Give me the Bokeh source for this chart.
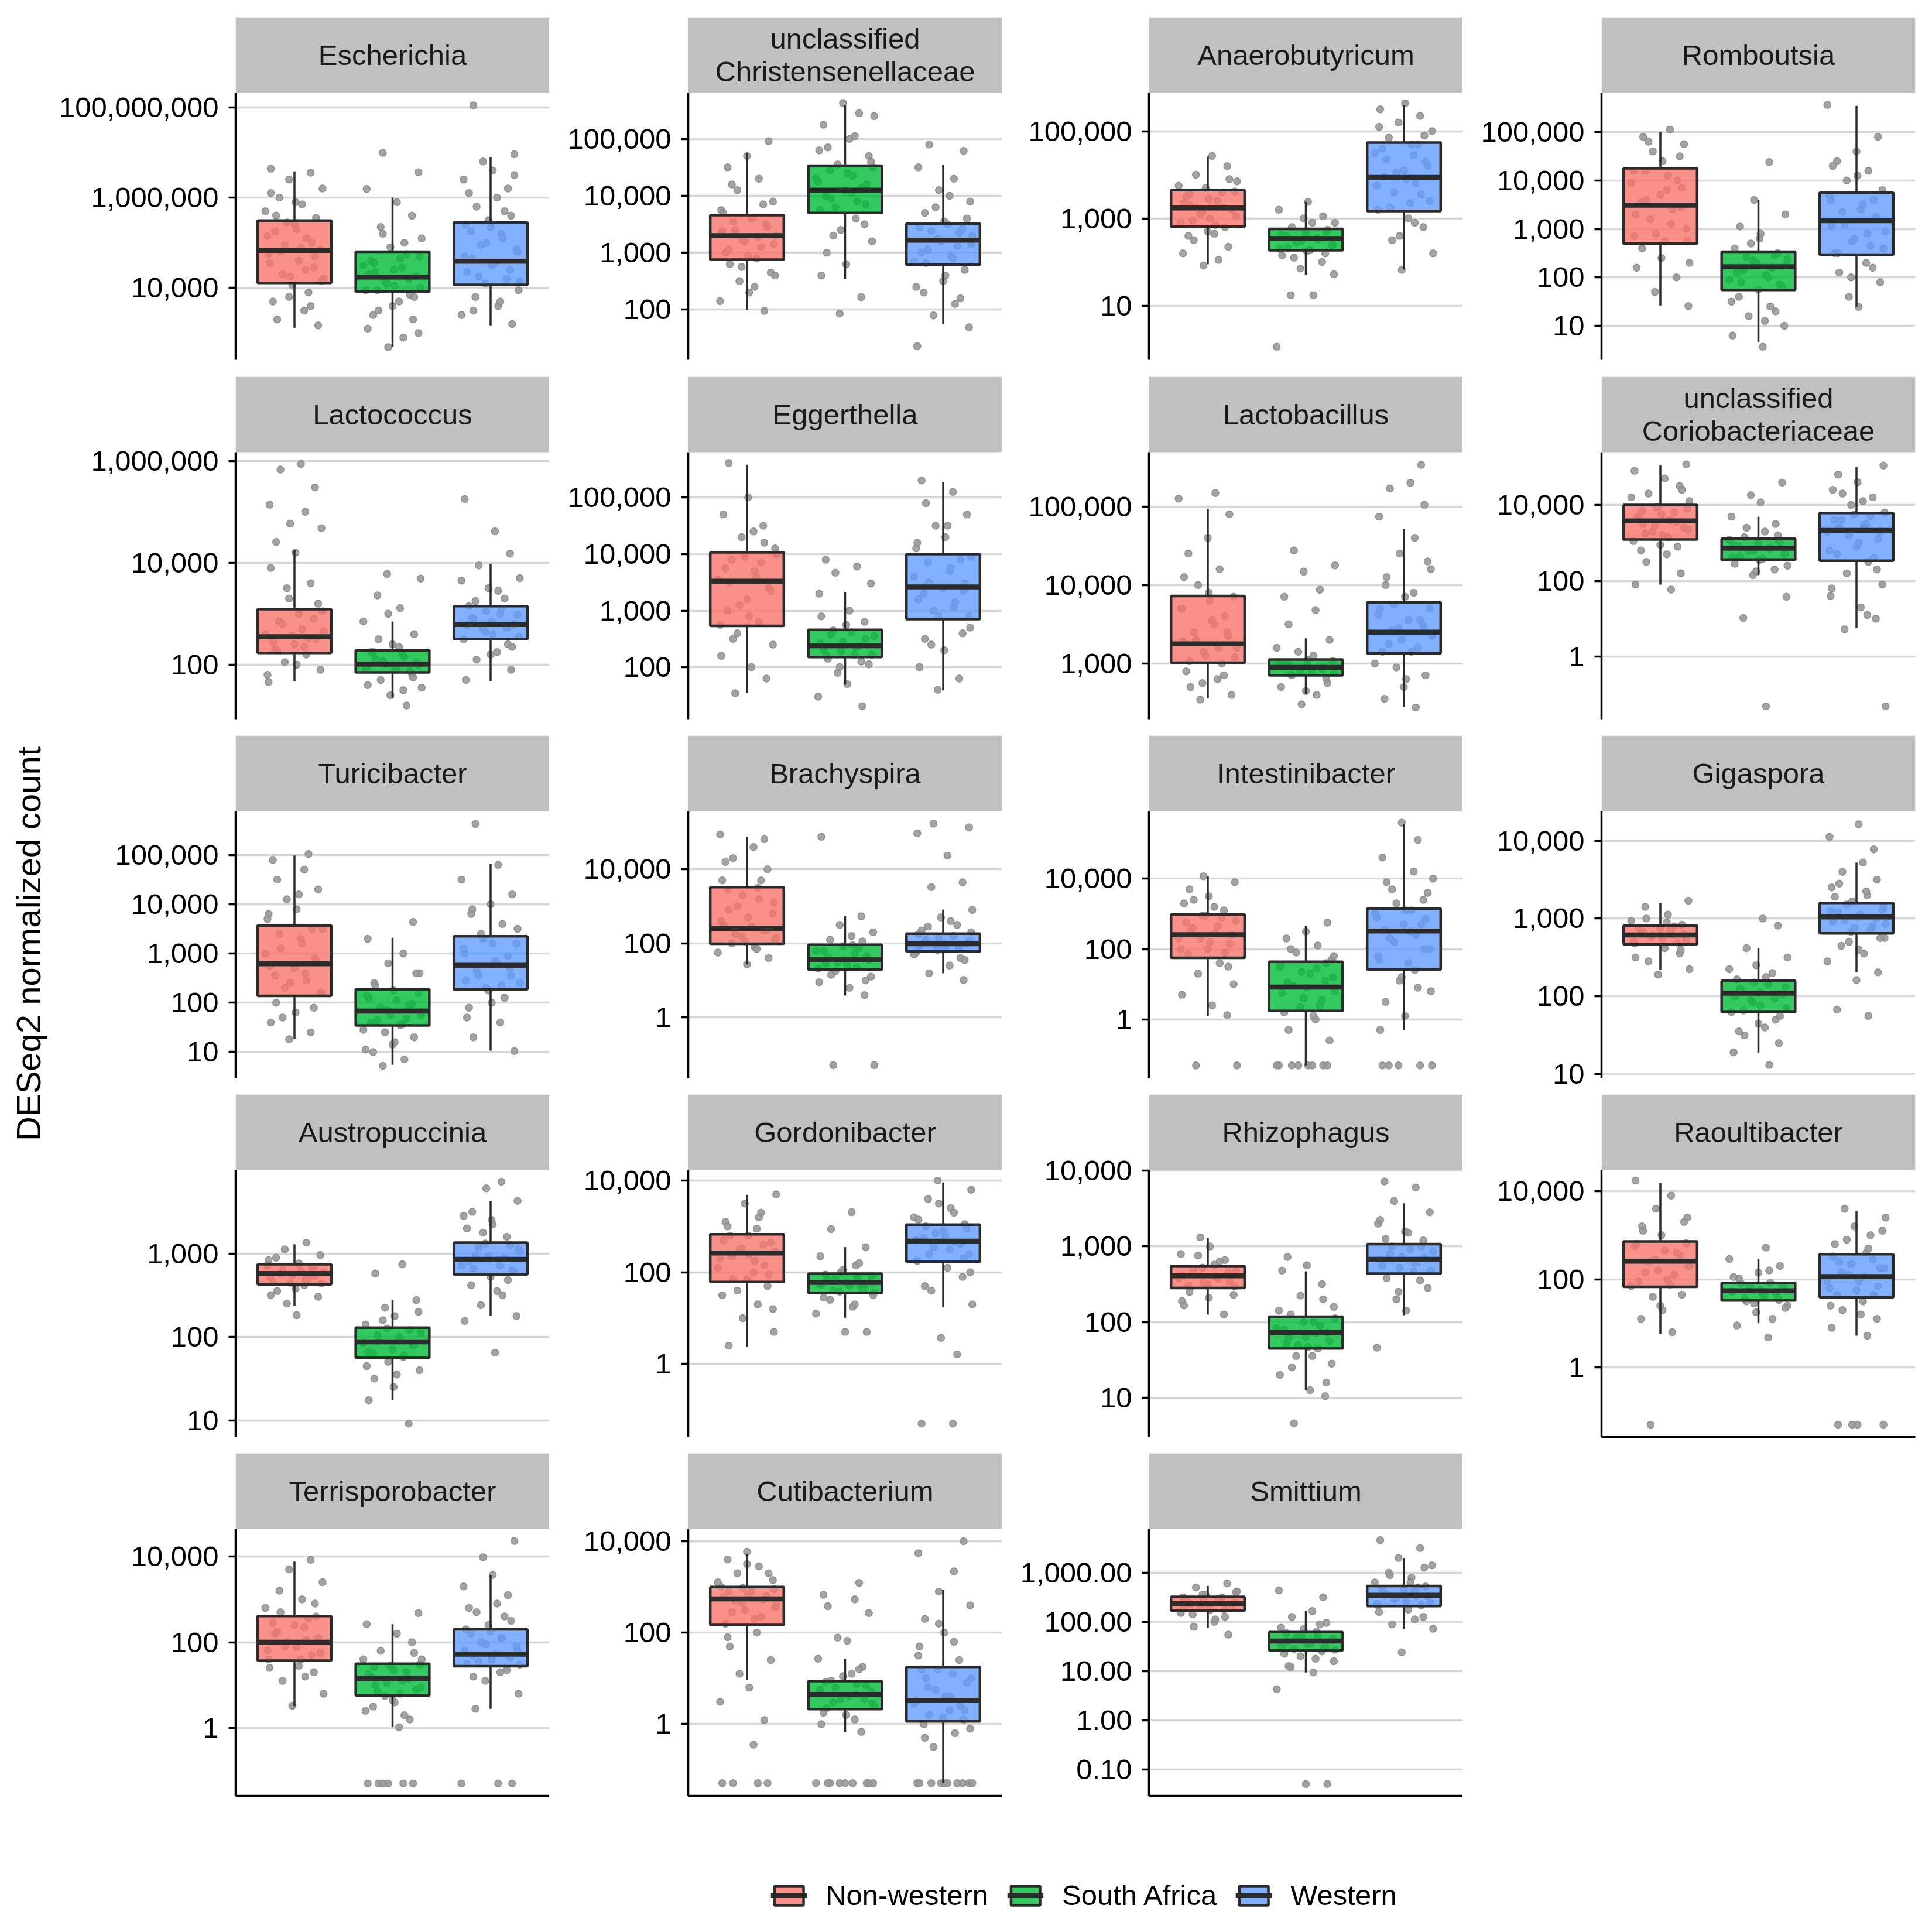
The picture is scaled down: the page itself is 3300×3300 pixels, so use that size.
import math
from bokeh.plotting import figure
from bokeh.models import (Range1d, FixedTicker, NumeralTickFormatter, BoxAnnotation,
                          Label, Legend, LegendItem, ColumnDataSource, Spacer)
from bokeh.layouts import row, column
from bokeh.embed import file_html
from bokeh.resources import INLINE

FONT = "Liberation Sans"

GENERA = ["Escherichia", "unclassified\nChristensenellaceae", "Anaerobutyricum", "Romboutsia",
          "Lactococcus", "Eggerthella", "Lactobacillus", "unclassified\nCoriobacteriaceae",
          "Turicibacter", "Brachyspira", "Intestinibacter", "Gigaspora",
          "Austropuccinia", "Gordonibacter", "Rhizophagus", "Raoultibacter",
          "Terrisporobacter", "Cutibacterium", "Smittium"]
GROUPS = ["Non-western", "South Africa", "Western"]
COLORS = ["#F8766D", "#00BA38", "#619CFF"]
Y_TITLE = "DESeq2 normalized count"

# panel y limits (log10 of count)
Y_LIMITS = [(2.41, 8.32), (1.12, 5.81), (-0.24, 5.88), (0.30, 5.81), (0.93, 6.17), (1.08, 5.80),
            (2.29, 5.69), (-1.65, 5.39), (0.47, 5.89), (-1.64, 5.57), (-1.67, 5.92), (0.95, 4.38),
            (0.80, 4.00), (-1.59, 4.23), (0.48, 4.01), (-1.58, 4.48), (-1.58, 4.64), (-1.57, 4.27),
            (-1.54, 3.89)]
# tick positions (log10)
TICKS = [[4, 6, 8], [2, 3, 4, 5], [1, 3, 5], [1, 2, 3, 4, 5], [2, 4, 6], [2, 3, 4, 5], [3, 4, 5],
         [0, 2, 4], [1, 2, 3, 4, 5], [0, 2, 4], [0, 2, 4], [1, 2, 3, 4], [1, 2, 3], [0, 2, 4],
         [1, 2, 3, 4], [0, 2, 4], [0, 2, 4], [0, 2, 4], [-1, 0, 1, 2, 3]]

# box statistics, log10 of count, (Non-western, South Africa, Western)
WHISKER_LOW = [(3.12, 2.70, 3.17), (2.00, 2.54, 1.75), (1.95, 1.71, 1.83), (1.42, 0.66, 1.39),
               (1.67, 1.35, 1.68), (1.55, 1.69, 1.59), (2.56, 2.61, 2.45), (1.90, 2.15, 0.75),
               (1.26, 0.74, 1.03), (1.43, 0.59, 1.19), (0.10, -1.31, -0.31), (2.34, 1.28, 2.31),
               (2.37, 1.24, 2.25), (0.37, 1.01, 1.24), (2.10, 1.10, 2.09), (0.76, 1.00, 0.72),
               (0.51, 0.02, 0.45), (0.96, -0.17, -1.29), (1.88, 0.97, 1.86)]
Q1 = [(4.11, 3.92, 4.07), (2.88, 3.70, 2.79), (2.81, 2.27, 3.17), (2.70, 1.74, 2.47),
      (2.23, 1.85, 2.50), (2.73, 2.18, 2.85), (3.01, 2.85, 3.13), (3.09, 2.56, 2.53),
      (2.14, 1.54, 2.27), (1.99, 1.29, 1.78), (1.75, 0.24, 1.42), (2.67, 1.80, 2.81),
      (2.63, 1.75, 2.75), (1.79, 1.55, 2.23), (2.45, 1.65, 2.64), (1.83, 1.52, 1.59),
      (1.57, 0.76, 1.44), (2.17, 0.33, 0.06), (2.23, 1.42, 2.32)]
MEDIAN = [(4.83, 4.24, 4.59), (3.30, 4.10, 3.22), (3.24, 2.54, 3.94), (3.49, 2.22, 3.17),
          (2.55, 2.01, 2.79), (3.52, 2.38, 3.42), (3.25, 2.95, 3.40), (3.58, 2.86, 3.33),
          (2.79, 1.83, 2.76), (2.40, 1.56, 1.99), (2.41, 0.92, 2.51), (2.79, 2.04, 3.02),
          (2.76, 1.94, 2.93), (2.42, 1.78, 2.68), (2.61, 1.86, 2.83), (2.41, 1.74, 2.06),
          (2.00, 1.16, 1.72), (2.74, 0.65, 0.52), (2.37, 1.61, 2.54)]
Q3 = [(5.49, 4.80, 5.45), (3.66, 4.53, 3.51), (3.65, 2.76, 4.74), (4.25, 2.53, 3.75),
      (3.09, 2.28, 3.15), (4.03, 2.66, 4.00), (3.86, 3.05, 3.78), (4.00, 3.11, 3.79),
      (3.57, 2.27, 3.35), (3.52, 1.96, 2.26), (2.98, 1.64, 3.15), (2.91, 2.20, 3.20),
      (2.87, 2.11, 3.13), (2.83, 1.97, 3.04), (2.74, 2.07, 3.03), (2.86, 1.92, 2.57),
      (2.61, 1.50, 2.30), (3.00, 0.94, 1.25), (2.51, 1.79, 2.73)]
WHISKER_HIGH = [(6.58, 6.00, 6.90), (4.75, 5.59, 4.55), (4.42, 3.38, 5.59), (5.00, 3.60, 5.54),
                (4.25, 2.85, 3.98), (5.58, 3.33, 5.27), (4.97, 3.32, 4.71), (5.04, 3.69, 5.00),
                (4.99, 3.32, 4.82), (4.88, 2.73, 2.91), (4.07, 2.66, 5.56), (3.20, 2.62, 3.72),
                (3.11, 2.44, 3.63), (3.69, 2.55, 3.96), (3.11, 2.67, 3.57), (4.19, 2.46, 3.55),
                (3.88, 2.42, 3.57), (3.72, 1.43, 2.94), (2.73, 2.22, 3.29)]

# individual samples (log10 of count)
POINTS_NONWESTERN = [
    [6.64, 6.55, 6.4, 6.2, 6.0, 5.85, 5.7, 5.55, 5.4, 5.25, 5.1, 4.95, 4.85, 4.75, 4.6, 4.45, 4.3, 4.2, 4.05, 3.9, 3.7, 3.5, 3.3, 3.17,
     5.45, 5.3, 5.15, 5.0, 4.9, 4.8, 4.7, 4.55, 4.4, 4.25, 4.15, 5.6, 5.9, 6.1, 3.6, 3.8],
    [4.96, 4.7, 4.5, 4.3, 4.1, 3.9, 3.75, 3.6, 3.5, 3.4, 3.3, 3.2, 3.1, 3.0, 2.9, 2.8, 2.65, 2.5, 2.3, 2.15, 1.98,
     3.62, 3.55, 3.45, 3.38, 3.28, 3.22, 3.15, 3.05, 2.95, 3.7, 3.85, 2.75, 2.6, 4.2, 2.4],
    [4.43, 4.2, 4.0, 3.85, 3.7, 3.6, 3.5, 3.4, 3.3, 3.2, 3.1, 3.0, 2.9, 2.8, 2.65, 2.5, 2.35, 2.2, 2.05, 1.92,
     3.62, 3.55, 3.45, 3.35, 3.25, 3.15, 3.05, 2.95, 2.85, 3.75, 3.9, 2.7, 2.6],
    [5.05, 4.9, 4.75, 4.6, 4.4, 4.2, 4.0, 3.8, 3.6, 3.45, 3.3, 3.1, 2.9, 2.75, 2.6, 2.4, 2.2, 2.0, 1.7, 1.41,
     4.2, 4.1, 3.95, 3.85, 3.7, 3.55, 3.4, 3.2, 3.0, 2.85, 2.75, 4.5, 4.8, 2.3],
    [5.94, 5.83, 5.48, 5.14, 5.0, 4.77, 4.68, 4.41, 4.2, 3.9, 3.6, 3.3, 3.05, 2.85, 2.7, 2.6, 2.5, 2.4, 2.3, 2.2, 2.05, 1.9, 1.66,
     3.0, 2.9, 2.8, 2.65, 2.58, 2.52, 2.45, 2.35, 2.28, 3.2, 3.5, 2.0, 1.8],
    [5.61, 5.0, 4.7, 4.5, 4.3, 4.1, 3.9, 3.7, 3.55, 3.4, 3.2, 3.0, 2.8, 2.6, 2.4, 2.2, 2.0, 1.8, 1.54,
     4.0, 3.95, 3.85, 3.75, 3.6, 3.5, 3.35, 3.1, 2.9, 2.75, 4.2, 4.4, 2.5],
    [5.17, 5.1, 4.9, 4.6, 4.4, 4.2, 4.0, 3.85, 3.7, 3.55, 3.4, 3.3, 3.2, 3.1, 3.0, 2.9, 2.8, 2.7, 2.6, 2.54,
     3.8, 3.7, 3.6, 3.5, 3.4, 3.35, 3.28, 3.2, 3.15, 3.08, 3.03, 3.9, 4.1, 2.85, 2.75],
    [5.07, 4.9, 4.7, 4.5, 4.3, 4.1, 3.95, 3.8, 3.7, 3.6, 3.5, 3.4, 3.3, 3.2, 3.05, 2.9, 2.7, 2.5, 2.2, 1.9, 1.77,
     3.95, 3.9, 3.85, 3.75, 3.65, 3.55, 3.45, 3.35, 3.25, 3.15, 4.2, 4.4, 2.95, 2.8],
    [5.02, 4.9, 4.7, 4.5, 4.3, 4.1, 3.9, 3.7, 3.5, 3.3, 3.1, 2.9, 2.75, 2.6, 2.4, 2.2, 2.0, 1.8, 1.6, 1.4, 1.26,
     3.5, 3.4, 3.2, 3.0, 2.85, 2.7, 2.55, 2.45, 2.3, 2.2, 3.8, 4.2, 1.9, 1.7],
    [4.94, 4.81, 4.6, 4.3, 4.0, 3.7, 3.5, 3.3, 3.1, 2.9, 2.7, 2.5, 2.35, 2.2, 2.1, 2.0, 1.9, 1.75, 1.6, 1.43,
     3.45, 3.2, 3.0, 2.8, 2.6, 2.45, 2.35, 2.25, 2.15, 2.05, 3.7, 4.2, 1.85],
    [4.07, 3.9, 3.7, 3.5, 3.3, 3.1, 2.95, 2.8, 2.6, 2.45, 2.3, 2.15, 2.0, 1.85, 1.6, 1.3, 1.0, 0.7, 0.4, 0.12, -1.31, -1.31,
     2.95, 2.9, 2.75, 2.65, 2.5, 2.4, 2.3, 2.2, 2.0, 1.9, 3.2, 3.4, 1.5],
    [3.23, 3.15, 3.05, 2.97, 2.92, 2.87, 2.82, 2.79, 2.76, 2.72, 2.68, 2.62, 2.55, 2.45, 2.35, 2.28,
     2.9, 2.88, 2.85, 2.83, 2.8, 2.78, 2.74, 2.7, 2.69, 2.95, 3.0, 2.6, 2.5],
    [3.13, 3.05, 2.98, 2.92, 2.88, 2.84, 2.8, 2.77, 2.74, 2.7, 2.66, 2.62, 2.55, 2.48, 2.4, 2.26,
     2.86, 2.82, 2.79, 2.76, 2.73, 2.72, 2.68, 2.65, 2.64, 2.95, 2.58, 2.5],
    [3.70, 3.5, 3.3, 3.1, 2.95, 2.8, 2.65, 2.5, 2.4, 2.3, 2.15, 2.0, 1.85, 1.7, 1.5, 1.3, 1.0, 0.7, 0.4,
     2.8, 2.7, 2.6, 2.52, 2.45, 2.35, 2.25, 2.1, 1.95, 1.85, 3.0, 3.2, 1.6, 1.2],
    [3.12, 3.0, 2.9, 2.82, 2.76, 2.7, 2.65, 2.61, 2.57, 2.52, 2.47, 2.4, 2.32, 2.22, 2.1,
     2.72, 2.68, 2.64, 2.6, 2.58, 2.54, 2.5, 2.48, 2.8, 2.88, 2.36, 2.28],
    [4.24, 3.9, 3.6, 3.4, 3.2, 3.0, 2.8, 2.6, 2.45, 2.3, 2.15, 2.0, 1.85, 1.65, 1.4, 1.1, 0.8, -1.30,
     2.82, 2.75, 2.65, 2.55, 2.4, 2.3, 2.2, 2.1, 1.95, 1.88, 3.1, 3.3, 1.6, 1.3],
    [3.92, 3.7, 3.4, 3.2, 3.0, 2.8, 2.6, 2.4, 2.2, 2.05, 1.9, 1.75, 1.6, 1.45, 1.3, 1.1, 0.8, 0.52,
     2.55, 2.45, 2.35, 2.25, 2.1, 2.0, 1.9, 1.8, 1.7, 1.6, 2.7, 2.9, 1.4, 1.2],
    [3.77, 3.6, 3.45, 3.3, 3.15, 3.0, 2.9, 2.8, 2.7, 2.6, 2.5, 2.35, 2.2, 2.0, 1.7, 1.4, 1.1, 0.80, 0.49, 0.09, -0.45, -1.29, -1.29, -1.29, -1.29,
     2.98, 2.95, 2.9, 2.85, 2.78, 2.72, 2.65, 2.55, 2.45, 2.3, 3.1, 3.3, 3.5, 1.9],
    [2.78, 2.7, 2.62, 2.55, 2.5, 2.45, 2.4, 2.37, 2.33, 2.28, 2.24, 2.18, 2.1, 2.0, 1.9, 1.74,
     2.5, 2.47, 2.43, 2.39, 2.36, 2.32, 2.28, 2.25, 2.55, 2.6, 2.15, 2.05],
]
POINTS_SOUTH_AFRICA = [
    [6.99, 6.56, 6.19, 5.9, 5.6, 5.35, 5.1, 4.9, 4.75, 4.6, 4.45, 4.35, 4.25, 4.15, 4.05, 3.95, 3.85, 3.7, 3.5, 3.3, 3.1, 2.9, 2.69,
     4.7, 4.55, 4.4, 4.3, 4.2, 4.1, 4.0, 3.95, 4.65, 4.5, 3.8, 3.6, 3.4, 5.0, 5.2, 3.0],
    [5.63, 5.45, 5.25, 5.05, 4.85, 4.7, 4.55, 4.4, 4.25, 4.15, 4.05, 3.95, 3.85, 3.75, 3.6, 3.4, 3.2, 3.0, 2.8, 2.6, 2.22, 1.93,
     4.5, 4.45, 4.35, 4.3, 4.2, 4.1, 4.0, 3.9, 3.8, 4.6, 4.8, 5.0, 3.5, 3.3, 5.4],
    [3.38, 3.2, 3.05, 2.9, 2.8, 2.7, 2.62, 2.55, 2.48, 2.4, 2.32, 2.25, 2.15, 2.0, 1.85, 1.72, 1.24, 1.24, 0.06,
     2.74, 2.68, 2.6, 2.52, 2.45, 2.38, 2.3, 2.28, 2.2, 2.1, 2.9, 3.0],
    [4.38, 3.6, 3.3, 3.05, 2.8, 2.6, 2.45, 2.35, 2.25, 2.15, 2.05, 1.95, 1.85, 1.75, 1.6, 1.4, 1.2, 1.0, 0.8, 0.57,
     2.5, 2.42, 2.38, 2.3, 2.2, 2.1, 2.0, 1.9, 1.8, 2.7, 2.9, 1.5, 1.3, 1.1],
    [3.78, 3.69, 3.36, 3.11, 2.85, 2.6, 2.4, 2.25, 2.15, 2.08, 2.0, 1.95, 1.9, 1.82, 1.7, 1.55, 1.4, 1.2,
     2.25, 2.2, 2.12, 2.05, 2.02, 1.97, 1.92, 1.88, 2.35, 2.5, 1.75, 1.6, 1.5, 3.0],
    [3.90, 3.78, 3.67, 3.48, 3.3, 3.0, 2.8, 2.65, 2.55, 2.45, 2.38, 2.3, 2.22, 2.15, 2.05, 1.9, 1.7, 1.48, 1.31,
     2.62, 2.58, 2.5, 2.42, 2.35, 2.28, 2.22, 2.2, 2.75, 2.9, 2.1, 2.0],
    [4.44, 4.25, 4.17, 3.94, 3.85, 3.68, 3.5, 3.3, 3.15, 3.05, 3.0, 2.95, 2.9, 2.85, 2.8, 2.7, 2.6, 2.48,
     3.03, 3.0, 2.98, 2.96, 2.93, 2.9, 2.88, 2.86, 3.1, 3.2, 2.75, 2.65],
    [4.59, 4.26, 4.07, 3.69, 3.5, 3.3, 3.15, 3.05, 2.95, 2.88, 2.8, 2.72, 2.65, 2.55, 2.45, 2.3, 2.15, 1.58, 1.02, -1.31,
     3.08, 3.02, 2.98, 2.92, 2.85, 2.78, 2.7, 2.62, 2.58, 3.2, 3.4, 2.4, 2.25],
    [3.64, 3.3, 3.0, 2.8, 2.6, 2.4, 2.25, 2.1, 1.95, 1.85, 1.75, 1.65, 1.55, 1.45, 1.3, 1.15, 1.0, 0.85, 0.72,
     2.2, 2.15, 2.05, 1.98, 1.9, 1.82, 1.75, 1.68, 1.6, 1.56, 2.35, 2.6, 1.4, 1.2, 1.05],
    [4.88, 2.73, 2.5, 2.3, 2.1, 1.95, 1.8, 1.65, 1.55, 1.45, 1.35, 1.25, 1.1, 0.95, 0.8, 0.6, -1.29, -1.29,
     1.92, 1.88, 1.8, 1.72, 1.62, 1.55, 1.48, 1.4, 1.32, 2.05, 2.2, 1.15, 1.0],
    [2.75, 2.5, 2.3, 2.1, 1.9, 1.7, 1.5, 1.3, 1.1, 0.95, 0.8, 0.6, 0.4, 0.2, 0.0, -0.3, -0.6, -1.31, -1.31, -1.31, -1.31, -1.31, -1.31,
     1.6, 1.55, 1.45, 1.35, 1.2, 1.05, 0.9, 0.75, 0.55, 0.35, 1.8, 2.0, 0.1, -1.31, -1.31],
    [3.0, 2.91, 2.62, 2.5, 2.4, 2.3, 2.22, 2.15, 2.08, 2.02, 1.95, 1.88, 1.8, 1.7, 1.6, 1.5, 1.4, 1.28, 1.12,
     2.18, 2.12, 2.1, 2.05, 2.0, 1.97, 1.92, 1.85, 1.82, 2.25, 2.35, 1.75, 1.65, 1.55],
    [2.87, 2.76, 2.44, 2.35, 2.25, 2.15, 2.08, 2.0, 1.95, 1.9, 1.82, 1.76, 1.7, 1.6, 1.5, 1.4, 1.24, 0.96,
     2.1, 2.05, 2.02, 1.98, 1.93, 1.9, 1.85, 1.8, 1.78, 2.2, 2.3, 1.65, 1.55],
    [3.31, 2.94, 2.55, 2.35, 2.15, 2.0, 1.92, 1.85, 1.78, 1.72, 1.65, 1.58, 1.5, 1.4, 1.25, 1.1, 0.70, 0.70,
     1.95, 1.9, 1.86, 1.8, 1.75, 1.7, 1.65, 1.6, 1.56, 2.05, 2.2, 1.45, 1.3],
    [2.86, 2.75, 2.68, 2.5, 2.35, 2.2, 2.1, 2.0, 1.92, 1.86, 1.8, 1.72, 1.65, 1.55, 1.45, 1.3, 1.1, 1.02, 0.66,
     2.05, 2.0, 1.95, 1.9, 1.85, 1.8, 1.75, 1.7, 1.67, 2.15, 2.3, 1.55, 1.4, 1.2],
    [2.72, 2.46, 2.3, 2.15, 2.02, 1.92, 1.85, 1.78, 1.72, 1.65, 1.58, 1.5, 1.4, 1.25, 1.1, 0.95, 0.68,
     1.9, 1.86, 1.82, 1.76, 1.72, 1.68, 1.62, 1.56, 1.53, 2.05, 2.2, 1.45, 1.35],
    [2.68, 2.42, 2.2, 2.0, 1.8, 1.6, 1.45, 1.3, 1.2, 1.1, 1.0, 0.9, 0.75, 0.6, 0.4, 0.2, 0.02, -1.29, -1.29, -1.29, -1.29, -1.29,
     1.48, 1.42, 1.35, 1.25, 1.15, 1.05, 0.95, 0.85, 0.8, 1.6, 1.75, 0.65, 0.5, 0.3, -1.29],
    [3.09, 2.83, 2.73, 2.58, 2.43, 1.89, 1.82, 1.43, 1.25, 1.1, 0.95, 0.85, 0.75, 0.65, 0.55, 0.45, 0.35, 0.2, 0.0, -0.17,
     -1.29, -1.29, -1.29, -1.29, -1.29, -1.29, -1.29,
     0.92, 0.88, 0.8, 0.72, 0.68, 0.62, 0.55, 0.48, 0.4, 1.05, 1.2, 0.25, 0.1, -1.29, -1.29],
    [2.64, 2.5, 2.22, 2.1, 1.98, 1.88, 1.8, 1.72, 1.65, 1.6, 1.55, 1.48, 1.4, 1.3, 1.2, 1.08, 0.97, 0.63, -1.30, -1.30,
     1.77, 1.72, 1.68, 1.63, 1.58, 1.55, 1.5, 1.45, 1.43, 1.85, 1.95, 1.35, 1.25, 1.1],
]
POINTS_WESTERN = [
    [8.04, 6.96, 6.8, 6.6, 6.4, 6.2, 6.0, 5.8, 5.6, 5.4, 5.2, 5.0, 4.8, 4.65, 4.5, 4.35, 4.2, 4.1, 3.95, 3.8, 3.6, 3.4, 3.2,
     5.35, 5.25, 5.1, 4.95, 4.85, 4.7, 4.55, 4.4, 4.25, 4.15, 5.5, 5.7, 6.1, 3.7, 3.5, 6.5],
    [4.90, 4.79, 4.5, 4.3, 4.1, 3.9, 3.7, 3.55, 3.45, 3.35, 3.25, 3.15, 3.05, 2.95, 2.85, 2.7, 2.5, 2.3, 2.1, 1.9, 1.69, 1.36,
     3.5, 3.42, 3.38, 3.3, 3.2, 3.12, 3.0, 2.9, 2.82, 3.6, 3.8, 2.6, 2.4, 2.2, 4.0],
    [5.64, 5.5, 5.35, 5.2, 5.0, 4.85, 4.7, 4.5, 4.3, 4.1, 3.95, 3.8, 3.6, 3.4, 3.2, 3.0, 2.8, 2.5, 2.2, 1.82,
     4.7, 4.6, 4.45, 4.35, 4.2, 4.05, 3.9, 3.75, 3.55, 3.35, 3.25, 4.9, 5.1, 2.9, 2.6],
    [5.56, 4.9, 4.6, 4.4, 4.2, 4.0, 3.8, 3.6, 3.4, 3.25, 3.1, 2.95, 2.8, 2.65, 2.5, 2.3, 2.1, 1.9, 1.6, 1.39,
     3.7, 3.6, 3.5, 3.35, 3.2, 3.05, 2.9, 2.75, 2.6, 2.5, 4.1, 4.3, 2.2, 2.0],
    [5.25, 4.62, 4.18, 3.95, 3.7, 3.5, 3.3, 3.15, 3.0, 2.9, 2.8, 2.7, 2.6, 2.5, 2.4, 2.25, 2.1, 1.9, 1.7,
     3.1, 3.05, 2.98, 2.92, 2.85, 2.78, 2.72, 2.65, 2.55, 3.25, 3.45, 3.65, 2.35, 2.2],
    [5.30, 5.1, 4.9, 4.7, 4.5, 4.3, 4.1, 3.9, 3.7, 3.5, 3.35, 3.2, 3.05, 2.9, 2.7, 2.5, 2.3, 2.0, 1.8, 1.6,
     3.95, 3.85, 3.75, 3.6, 3.48, 3.4, 3.3, 3.15, 3.0, 2.9, 4.2, 4.5, 2.6, 2.4],
    [5.53, 5.30, 5.23, 5.02, 4.87, 4.6, 4.4, 4.2, 4.0, 3.85, 3.7, 3.55, 3.45, 3.35, 3.25, 3.15, 3.0, 2.85, 2.7, 2.55, 2.44,
     3.75, 3.7, 3.62, 3.55, 3.48, 3.42, 3.38, 3.3, 3.2, 3.15, 3.9, 4.1, 4.3, 2.95, 2.8],
    [5.04, 4.8, 4.6, 4.4, 4.2, 4.0, 3.8, 3.6, 3.45, 3.3, 3.1, 2.9, 2.7, 2.5, 2.2, 1.9, 1.6, 1.3, 1.0, 0.72, -1.31,
     3.75, 3.7, 3.6, 3.5, 3.4, 3.3, 3.2, 3.0, 2.8, 2.6, 4.1, 4.3, 2.3, 1.8, 1.1],
    [5.63, 4.8, 4.5, 4.2, 4.0, 3.8, 3.6, 3.4, 3.2, 3.0, 2.85, 2.7, 2.55, 2.4, 2.25, 2.1, 1.9, 1.6, 1.3, 1.02,
     3.3, 3.2, 3.1, 2.95, 2.8, 2.65, 2.55, 2.45, 2.35, 2.3, 3.5, 3.9, 2.0, 1.7],
    [5.23, 5.13, 4.97, 4.37, 3.65, 3.52, 2.9, 2.7, 2.5, 2.35, 2.2, 2.1, 2.0, 1.95, 1.85, 1.75, 1.6, 1.4, 1.19, 1.01,
     2.24, 2.2, 2.15, 2.08, 2.02, 1.98, 1.93, 1.88, 1.82, 2.3, 2.45, 2.6, 1.7, 1.55],
    [5.59, 5.1, 4.6, 4.2, 3.9, 3.6, 3.3, 3.1, 2.9, 2.7, 2.5, 2.3, 2.0, 1.7, 1.4, 1.1, 0.8, 0.5, 0.1, -0.3, -1.31, -1.31, -1.31, -1.31,
     3.1, 3.0, 2.85, 2.7, 2.55, 2.4, 2.2, 2.0, 1.8, 1.6, 3.4, 3.7, 4.0, 1.2, 0.9, -1.31],
    [4.21, 4.05, 3.89, 3.72, 3.6, 3.5, 3.4, 3.3, 3.22, 3.15, 3.08, 3.02, 2.96, 2.9, 2.83, 2.75, 2.65, 2.55, 2.45, 2.31, 2.21, 1.83, 1.75,
     3.18, 3.12, 3.1, 3.05, 3.0, 2.98, 2.93, 2.88, 2.85, 3.28, 3.35, 3.45, 2.75, 2.7, 2.6],
    [3.86, 3.78, 3.63, 3.5, 3.4, 3.3, 3.2, 3.12, 3.05, 2.98, 2.92, 2.86, 2.8, 2.72, 2.62, 2.5, 2.38, 2.25, 2.19, 1.81,
     3.1, 3.07, 3.02, 2.97, 2.94, 2.9, 2.85, 2.82, 2.78, 3.25, 3.35, 3.45, 2.68, 2.55],
    [4.0, 3.8, 3.6, 3.4, 3.2, 3.05, 2.9, 2.75, 2.65, 2.55, 2.4, 2.25, 2.1, 1.9, 1.6, 1.3, 0.57, 0.21, -1.30, -1.30,
     3.0, 2.95, 2.85, 2.78, 2.7, 2.62, 2.5, 2.4, 2.3, 3.15, 3.3, 3.5, 2.0, 1.7],
    [3.86, 3.78, 3.6, 3.45, 3.3, 3.18, 3.08, 3.0, 2.93, 2.86, 2.8, 2.74, 2.67, 2.58, 2.45, 2.3, 2.15, 1.66,
     3.0, 2.96, 2.9, 2.85, 2.82, 2.78, 2.72, 2.68, 3.1, 3.2, 3.35, 2.55, 2.4],
    [3.60, 3.4, 3.2, 3.0, 2.8, 2.6, 2.4, 2.25, 2.1, 1.95, 1.8, 1.65, 1.5, 1.3, 1.1, 0.9, 0.72, -1.30, -1.30, -1.30, -1.30,
     2.52, 2.45, 2.35, 2.25, 2.15, 2.05, 1.95, 1.85, 1.75, 1.65, 2.7, 2.9, 3.1, 1.4, 1.2],
    [4.36, 3.98, 3.57, 3.3, 3.1, 2.9, 2.7, 2.5, 2.3, 2.1, 1.95, 1.8, 1.7, 1.6, 1.5, 1.35, 1.1, 0.8, 0.45, -1.29, -1.29, -1.29,
     2.25, 2.2, 2.1, 2.0, 1.9, 1.8, 1.72, 1.65, 1.55, 1.48, 2.4, 2.6, 2.8, 1.3, 1.2],
    [4.0, 3.74, 3.34, 2.9, 2.6, 2.3, 2.0, 1.7, 1.4, 1.2, 1.0, 0.8, 0.6, 0.45, 0.3, 0.15, 0.0, -0.2, -0.5,
     -1.29, -1.29, -1.29, -1.29, -1.29, -1.29, -1.29, -1.29,
     1.2, 1.1, 1.0, 0.9, 0.75, 0.6, 0.5, 0.4, 0.3, 0.2, 0.1, 1.5, 1.8, 2.2, -0.1, -0.3, -1.29, -1.29],
    [3.66, 3.50, 3.3, 3.15, 3.0, 2.9, 2.8, 2.72, 2.65, 2.58, 2.52, 2.46, 2.4, 2.33, 2.25, 2.1, 1.95, 1.86, 1.38,
     2.7, 2.66, 2.62, 2.56, 2.52, 2.48, 2.42, 2.36, 2.34, 2.8, 2.95, 3.1, 2.2, 2.05],
]
POINTS = [POINTS_NONWESTERN, POINTS_SOUTH_AFRICA, POINTS_WESTERN]

# ---- layout / style constants (not data) ----
JITTER = [-0.22, 0.15, -0.05, 0.26, -0.14, 0.07, -0.27, 0.20, 0.00, -0.18, 0.11, -0.09, 0.24, -0.24,
          0.04, 0.18, -0.11, 0.27, -0.02, 0.13, -0.20, 0.09, -0.16, 0.22, -0.07, 0.02, -0.25, 0.16,
          0.06, -0.13, 0.19, -0.23, 0.10, -0.04, 0.25, -0.17, 0.01]
BOX_HALF = 0.375
TITLE_W = 95
COL_W = [843, 773, 787, 802]
COL_LEFT = [307, 237, 251, 237]
COL_RIGHT = [0, 0, 0, 29]
ROW_TOP = [29, 0, 0, 0, 0]
ROW_BOTTOM = [29, 28, 28, 28, 10]
PANEL_H = 456
STRIP_H = 129
FRAME_H = PANEL_H + STRIP_H
LINE_DARK = "#2b2b2b"
BOTTOM_PANELS = {15, 16, 17, 18}


def make_panel(i, r, c):
    lo, hi = Y_LIMITS[i]
    top = hi + (hi - lo) * STRIP_H / PANEL_H
    p = figure(width=COL_W[c], height=ROW_TOP[r] + FRAME_H + ROW_BOTTOM[r],
               min_border_left=COL_LEFT[c], min_border_right=COL_RIGHT[c],
               min_border_top=ROW_TOP[r], min_border_bottom=ROW_BOTTOM[r],
               y_axis_type="log", x_range=Range1d(0.4, 3.6),
               y_range=Range1d(10 ** lo, 10 ** top),
               toolbar_location=None, output_backend="svg", title=None)
    p.outline_line_color = None
    p.background_fill_color = "white"
    p.border_fill_color = "white"
    p.xgrid.visible = False

    ticks = [10.0 ** t for t in TICKS[i]]
    ya = p.yaxis[0]
    ya.ticker = FixedTicker(ticks=ticks)
    ya.formatter = NumeralTickFormatter(format="0,0.00" if i == 18 else "0,0")
    ya.bounds = (10 ** lo, 10 ** hi)
    ya.axis_line_width = 3.5
    ya.axis_line_color = "black"
    ya.major_tick_line_width = 3.5
    ya.major_tick_line_color = "black"
    ya.major_tick_out = 12
    ya.major_tick_in = 0
    ya.minor_tick_line_color = None
    ya.major_label_standoff = 17
    ya.major_label_text_font = FONT
    ya.major_label_text_font_size = "49px"
    ya.major_label_text_color = "black"

    p.ygrid.ticker = FixedTicker(ticks=ticks)
    p.ygrid.bounds = (10 ** lo, 10 ** hi)
    p.ygrid.grid_line_color = "#d6d6d6"
    p.ygrid.grid_line_width = 3.5

    xa = p.xaxis[0]
    if i in BOTTOM_PANELS:
        xa.ticker = FixedTicker(ticks=[])
        xa.major_tick_line_color = None
        xa.minor_tick_line_color = None
        xa.major_label_text_font_size = "0px"
        xa.axis_line_width = 3.5
        xa.axis_line_color = "black"
    else:
        xa.visible = False

    # jittered points
    xs, ys = [], []
    for g in range(3):
        for k, v in enumerate(POINTS[g][i]):
            xs.append(g + 1 + 1.1 * JITTER[(k + 7 * i + 11 * g) % len(JITTER)])
            ys.append(10 ** v)
    p.scatter(x="x", y="y", source=ColumnDataSource(dict(x=xs, y=ys)), size=12,
              fill_color="#999999", fill_alpha=0.9, line_color="#888888", line_alpha=0.9,
              line_width=1.5)

    gx = [1, 2, 3]
    box_src = ColumnDataSource(dict(
        left=[x - BOX_HALF for x in gx], right=[x + BOX_HALF for x in gx],
        q1=[10 ** v for v in Q1[i]], q3=[10 ** v for v in Q3[i]],
        med=[10 ** v for v in MEDIAN[i]], wlo=[10 ** v for v in WHISKER_LOW[i]],
        whi=[10 ** v for v in WHISKER_HIGH[i]], x=gx, color=COLORS))
    p.segment(x0="x", x1="x", y0="q3", y1="whi", source=box_src, line_color=LINE_DARK, line_width=3.5)
    p.segment(x0="x", x1="x", y0="q1", y1="wlo", source=box_src, line_color=LINE_DARK, line_width=3.5)
    p.quad(left="left", right="right", bottom="q1", top="q3", source=box_src,
           fill_color="color", fill_alpha=0.8, line_color=LINE_DARK, line_width=4.5)
    p.segment(x0="left", x1="right", y0="med", y1="med", source=box_src,
              line_color=LINE_DARK, line_width=8.5)

    # facet strip
    p.add_layout(BoxAnnotation(bottom=10 ** hi, fill_color="#c0c0c0", fill_alpha=1.0,
                               line_color=None))
    p.add_layout(Label(x=2.0, y=10 ** ((hi + top) / 2), text=GENERA[i], text_align="center",
                       text_baseline="middle", text_font=FONT, text_font_size="49px",
                       text_color="#1a1a1a", text_line_height=1.05))
    return p


rows = []
for r in range(5):
    cells = []
    for c in range(4):
        i = r * 4 + c
        if i < len(GENERA):
            cells.append(make_panel(i, r, c))
        else:
            cells.append(Spacer(width=COL_W[c], height=ROW_TOP[r] + FRAME_H + ROW_BOTTOM[r]))
    rows.append(row(*cells))
grid_h = sum(ROW_TOP) + sum(ROW_BOTTOM) + 5 * FRAME_H

# shared y-axis title, centred on the panel area
tf = figure(width=TITLE_W, height=grid_h, min_border_left=0, min_border_right=0,
            min_border_top=ROW_TOP[0] + STRIP_H, min_border_bottom=ROW_BOTTOM[-1] + 2,
            x_range=(0, 1), y_range=(0, 1), toolbar_location=None, output_backend="svg",
            title=None)
tf.axis.visible = False
tf.grid.visible = False
tf.outline_line_color = None
tf.add_layout(Label(x=0.5, y=0.5, text=Y_TITLE, angle=math.pi / 2, text_align="center",
                    text_baseline="middle", text_font=FONT, text_font_size="58px",
                    text_color="black"))

# legend
lf = figure(width=3300, height=3300 - grid_h, min_border_left=402, min_border_right=0,
            min_border_top=3300 - grid_h - 126, min_border_bottom=0, x_range=(0, 1), y_range=(0, 1),
            toolbar_location=None, output_backend="svg", title=None)
lf.axis.visible = False
lf.grid.visible = False
lf.outline_line_color = None
nan = float("nan")
items = []
for g, col in zip(GROUPS, COLORS):
    rq = lf.quad(left=[nan], right=[nan], top=[nan], bottom=[nan], fill_color=col, fill_alpha=0.8,
                 line_color=LINE_DARK, line_width=4.5)
    rl = lf.line(x=[nan], y=[nan], line_color=LINE_DARK, line_width=8)
    items.append(LegendItem(label=g, renderers=[rq, rl]))
legend = Legend(items=items, orientation="horizontal", location="center",
                glyph_width=62, glyph_height=41, label_standoff=32, spacing=32,
                padding=0, margin=0, border_line_color=None, background_fill_alpha=0,
                label_text_font=FONT, label_text_font_size="49px", label_text_color="black")
lf.add_layout(legend, "center")

layout = column(row(tf, column(*rows)), lf)
open("out.html", "w").write(file_html(layout, INLINE))
